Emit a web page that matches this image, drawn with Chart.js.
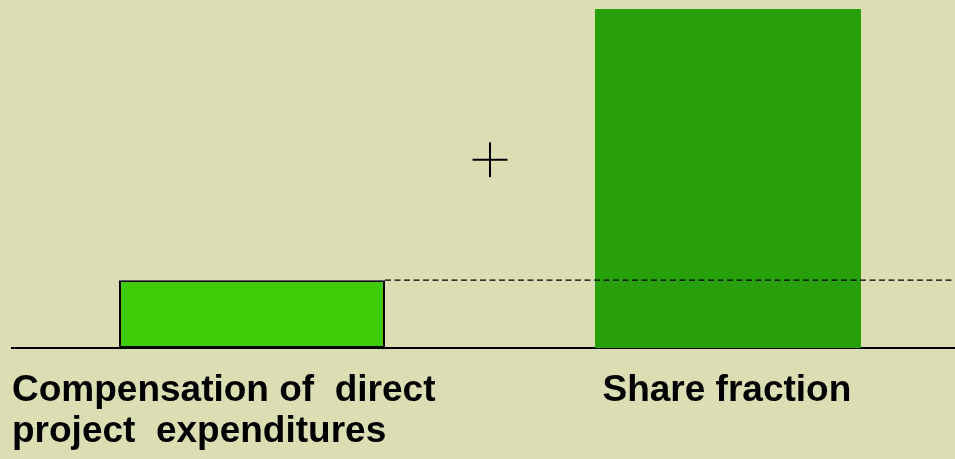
<!DOCTYPE html>
<html>
<head>
<meta charset="utf-8">
<script src="https://cdn.jsdelivr.net/npm/chart.js@4/dist/chart.umd.min.js"></script>
<style>
  html, body { margin: 0; padding: 0; background: #dadeb2; overflow: hidden; }
  #wrap { width: 955px; height: 459px; position: relative; }
</style>
</head>
<body>
<div id="wrap"><canvas id="c" width="955" height="459"></canvas></div>
<script>
// ---- data ----
const categories = [["Compensation of  direct", "project  expenditures"], "Share fraction"];
const barValues = [20, 100];
const barColors = ["#3ecc08", "#28a00c"];
const barBorderColors = ["#000000", "rgba(0,0,0,0)"];
const markerPoint = [{ x: 0.5, y: 55.5 }];

// ---- layout helpers (not data) ----
const X_MIN = -0.5042, X_MAX = 1.4769;
const BAR_FRACTION = 0.5588;
const LABEL_TICKS = [X_MIN, 0.7363];

const barData = barValues.map((v, i) => ({ x: i, y: v }));
const refLine = [
  { x: 0 + BAR_FRACTION / 2, y: barValues[0] },
  { x: X_MAX, y: barValues[0] }
];

new Chart(document.getElementById('c'), {
  data: {
    datasets: [
      {
        type: 'line',
        data: refLine,
        borderColor: '#000',
        borderWidth: 1.2,
        borderDash: [6, 3.5],
        pointRadius: 0,
        fill: false,
        order: 0
      },
      {
        type: 'scatter',
        data: markerPoint,
        pointStyle: 'cross',
        pointRadius: 17.5,
        pointBorderWidth: 2,
        pointBorderColor: '#000',
        order: 0
      },
      {
        type: 'bar',
        data: barData,
        backgroundColor: barColors,
        borderColor: barBorderColors,
        borderWidth: [2, 0],
        borderSkipped: false,
        categoryPercentage: 1,
        barPercentage: BAR_FRACTION,
        order: 1
      }
    ]
  },
  options: {
    responsive: false,
    animation: false,
    events: [],
    layout: { autoPadding: false, padding: { top: 9, left: 12, right: 0, bottom: 0 } },
    plugins: { legend: { display: false }, tooltip: { enabled: false } },
    scales: {
      x: {
        type: 'linear',
        min: X_MIN,
        max: X_MAX,
        offset: false,
        grid: { display: false, drawTicks: true, tickLength: 22, offset: false },
        border: { display: true, color: '#000', width: 2 },
        afterBuildTicks: (scale) => { scale.ticks = LABEL_TICKS.map(v => ({ value: v })); },
        afterFit: (scale) => { scale.height = 111; },
        ticks: {
          autoSkip: false,
          maxRotation: 0,
          minRotation: 0,
          align: 'start',
          padding: 0,
          color: '#000',
          font: { family: '"Liberation Sans", Arial, sans-serif', size: 37, weight: 'bold', lineHeight: 41 / 37 },
          callback: (value, index) => categories[index]
        }
      },
      y: {
        display: false,
        min: 0,
        max: 100
      }
    }
  }
});
</script>
</body>
</html>
